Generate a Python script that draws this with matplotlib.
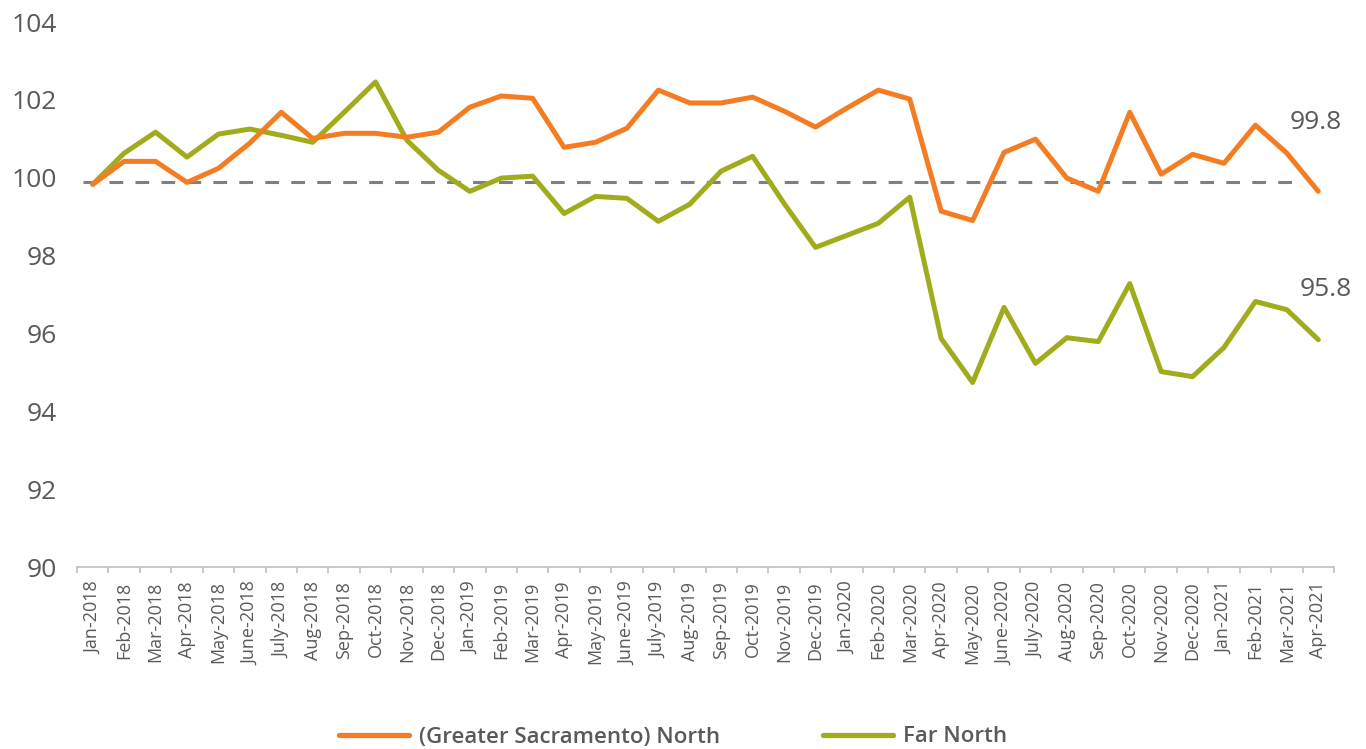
import matplotlib
matplotlib.use("Agg")
import matplotlib.pyplot as plt

months = ["Jan-2018", "Feb-2018", "Mar-2018", "Apr-2018", "May-2018", "June-2018",
          "July-2018", "Aug-2018", "Sep-2018", "Oct-2018", "Nov-2018", "Dec-2018",
          "Jan-2019", "Feb-2019", "Mar-2019", "Apr-2019", "May-2019", "June-2019",
          "July-2019", "Aug-2019", "Sep-2019", "Oct-2019", "Nov-2019", "Dec-2019",
          "Jan-2020", "Feb-2020", "Mar-2020", "Apr-2020", "May-2020", "June-2020",
          "July-2020", "Aug-2020", "Sep-2020", "Oct-2020", "Nov-2020", "Dec-2020",
          "Jan-2021", "Feb-2021", "Mar-2021", "Apr-2021"]

sac_north = [99.83, 100.42, 100.42, 99.88, 100.24, 100.89, 101.68, 101.01, 101.14, 101.14,
             101.04, 101.17, 101.81, 102.10, 102.04, 100.78, 100.91, 101.27, 102.25, 101.92,
             101.92, 102.07, 101.71, 101.30, 101.79, 102.25, 102.02, 99.14, 98.90, 100.65,
             100.99, 99.99, 99.65, 101.68, 100.09, 100.60, 100.37, 101.35, 100.63, 99.65]

far_north = [99.83, 100.63, 101.17, 100.53, 101.12, 101.25, 101.09, 100.91, 101.68, 102.46,
             100.96, 100.19, 99.65, 99.99, 100.04, 99.08, 99.52, 99.47, 98.88, 99.32,
             100.17, 100.55, 99.34, 98.21, 98.52, 98.83, 99.50, 95.87, 94.74, 96.67,
             95.23, 95.89, 95.79, 97.28, 95.02, 94.89, 95.64, 96.82, 96.61, 95.84]

baseline = 99.9
end_labels = ["99.8", "95.8"]
series_names = ["(Greater Sacramento) North", "Far North"]

ORANGE = "#F47D23"
GREEN = "#A0AC1C"
TEXT = "#58595B"

plt.rcParams["font.family"] = ["Open Sans", "DejaVu Sans"]

fig = plt.figure(figsize=(13.66, 7.49), dpi=100)
ax = fig.add_axes([77 / 1366, 1 - 567 / 749, (1334 - 77) / 1366, (567 - 22) / 749])

x = list(range(len(months)))
ax.axhline(baseline, xmin=0.005, xmax=0.975, color="#7F7F7F", lw=2.2, dashes=(4.5, 4), zorder=1)
ax.plot(x, sac_north, color=ORANGE, lw=3.6, label=series_names[0], zorder=3,
        solid_joinstyle="round", solid_capstyle="round")
ax.plot(x, far_north, color=GREEN, lw=3.6, label=series_names[1], zorder=2,
        solid_joinstyle="round", solid_capstyle="round")

# end-of-line value labels
ax.annotate(end_labels[0], (x[-1], sac_north[-1]), xytext=(-3, 69), textcoords="offset pixels",
            ha="center", va="center", fontsize=19, color=TEXT)
ax.annotate(end_labels[1], (x[-1], far_north[-1]), xytext=(7, 50), textcoords="offset pixels",
            ha="center", va="center", fontsize=19, color=TEXT)

ax.set_xlim(-0.5, len(months) - 0.5)
ax.set_ylim(90, 104)
ax.set_yticks(range(90, 105, 2))
ax.tick_params(axis="y", length=0, pad=14.4, labelsize=19, labelcolor=TEXT)

ax.set_xticks(x)
ax.set_xticklabels(months, rotation=90, fontsize=13, color=TEXT)
ax.set_xticks([i - 0.5 for i in range(len(months) + 1)], minor=True)
ax.tick_params(axis="x", which="major", length=0, pad=10.5)
ax.tick_params(axis="x", which="minor", length=4, color="#BFBFBF", width=1.2)

for side in ["top", "right", "left"]:
    ax.spines[side].set_visible(False)
ax.spines["bottom"].set_color("#BFBFBF")
ax.spines["bottom"].set_linewidth(1.2)

leg = fig.legend(loc="center", bbox_to_anchor=(673 / 1366, 1 - 737 / 749), ncol=2, frameon=False,
                 prop={"size": 16, "weight": "semibold"}, labelcolor=TEXT,
                 handlelength=3.15, columnspacing=4.6, handletextpad=0.45)
for line in leg.get_lines():
    line.set_solid_capstyle("round")
    line.set_linewidth(3.8)

fig.savefig("out.png", dpi=100)
